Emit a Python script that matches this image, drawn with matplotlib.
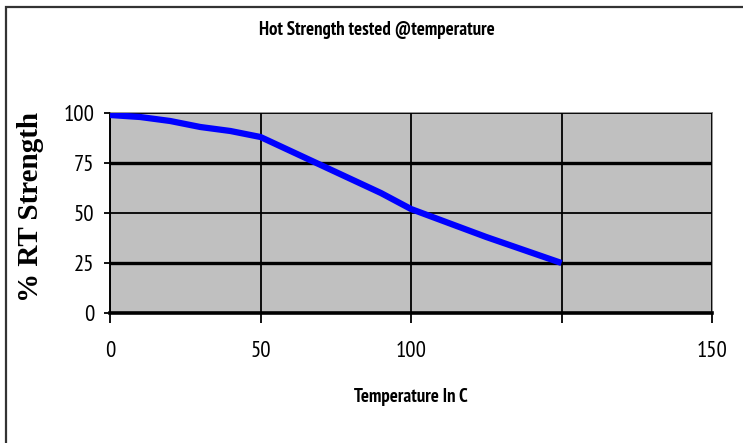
import matplotlib
matplotlib.use('Agg')
import matplotlib.pyplot as plt
from matplotlib.patches import Rectangle

# data
temps = [0, 10, 20, 30, 40, 50, 60, 70, 80, 90, 100, 125, 150]
strength = [99, 98, 96, 93, 91, 88, 81, 74, 67, 60, 52, 38, 25]
x_ticks = [0, 50, 100, 150, 200]
x_tick_labels = ['0', '50', '100', '', '150']
y_ticks = [0, 25, 50, 75, 100]

NARROW = ['PT Sans Narrow', 'DejaVu Sans']
SERIF = ['Liberation Serif', 'DejaVu Serif']

fig = plt.figure(figsize=(7.43, 4.43), dpi=100)
fig.patch.set_facecolor('white')

# outer chart frame (runs off the right and bottom edges)
fig.patches.append(Rectangle((6 / 743, -0.1), 1.2, 1.1 - 7 / 443,
                             transform=fig.transFigure, fill=False,
                             edgecolor='#333333', lw=1.6))

ax = fig.add_axes((110 / 743, 1 - 313 / 443, 602 / 743, 200 / 443))
ax.set_facecolor('#c0c0c0')

ax.plot(temps, strength, color='#0000ff', lw=4.5, solid_capstyle='butt',
        zorder=3)

ax.set_xlim(0, 200)
ax.set_ylim(0, 100)
ax.set_xticks(x_ticks)
ax.set_xticklabels(x_tick_labels)
ax.set_yticks(y_ticks)

ax.grid(True, color='black', lw=1.3)
for val, gl in zip(y_ticks, ax.yaxis.get_gridlines()):
    gl.set_linewidth(2.4 if val in (25, 75) else 1.3)
ax.set_axisbelow(False)
for line in ax.get_lines():
    line.set_zorder(3)

ax.spines['top'].set_color('#808080')
ax.spines['right'].set_color('#808080')
ax.spines['top'].set_linewidth(1.2)
ax.spines['right'].set_linewidth(1.2)
ax.spines['bottom'].set_linewidth(2.6)
ax.spines['left'].set_linewidth(1.4)

ax.tick_params(axis='x', direction='out', length=7, width=1.3, pad=13,
               labelsize=16.5)
ax.tick_params(axis='y', direction='out', length=4.3, width=1.3, pad=7,
               labelsize=16.5)
for lab in ax.get_xticklabels() + ax.get_yticklabels():
    lab.set_family(NARROW)

fig.text(377 / 743, 1 - 30 / 443, 'Hot Strength tested @temperature',
         ha='center', va='center', fontsize=13.5, fontweight='bold',
         family=NARROW)
fig.text(411 / 743, 1 - 397 / 443, 'Temperature In C',
         ha='center', va='center', fontsize=13.5, fontweight='bold',
         family=NARROW)
fig.text(31 / 743, 1 - 207 / 443, '% RT Strength', rotation=90,
         ha='center', va='center', fontsize=21, fontweight='bold',
         family=SERIF)

fig.savefig('out.png', dpi=100)
